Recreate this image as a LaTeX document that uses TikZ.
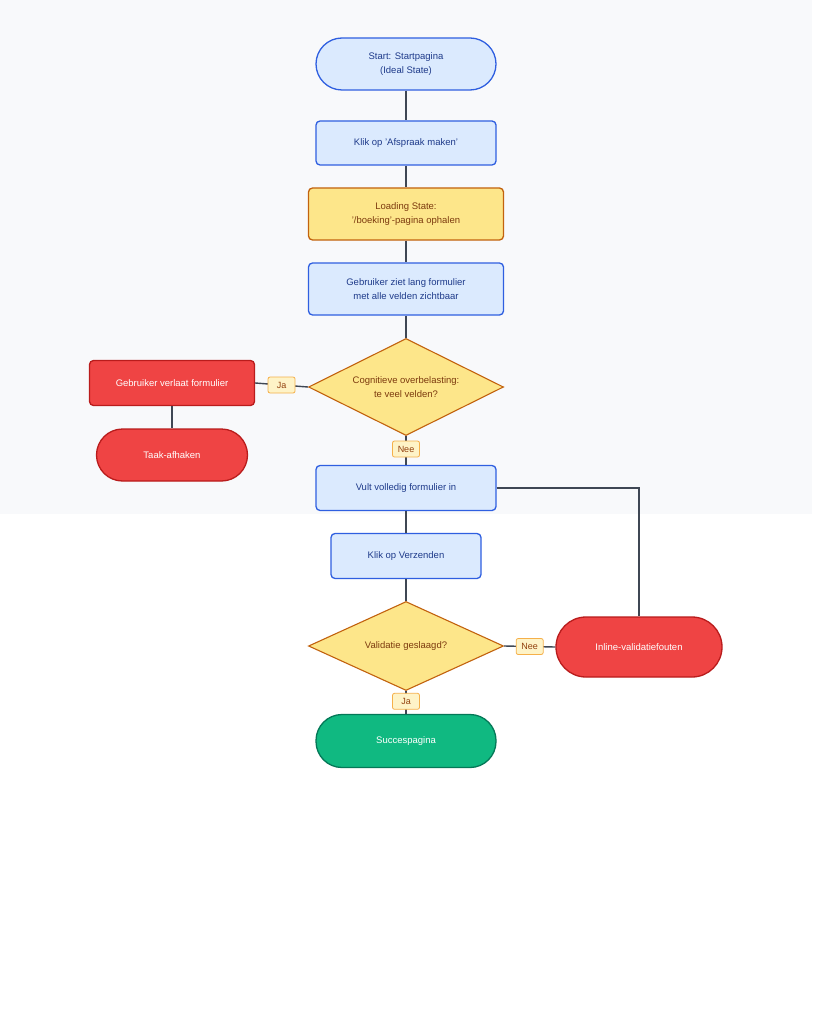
\documentclass[tikz,border=0pt]{standalone}
\usepackage{fontspec}
\setmainfont{Liberation Sans}
\usetikzlibrary{shapes.geometric}
\definecolor{bgGray}{HTML}{F8F9FB}
\definecolor{blueFill}{HTML}{DBEAFE}
\definecolor{blueLine}{HTML}{2F5FE0}
\definecolor{blueText}{HTML}{1E3A8A}
\definecolor{yelFill}{HTML}{FDE68A}
\definecolor{yelLine}{HTML}{C2620E}
\definecolor{yelText}{HTML}{7C3A0E}
\definecolor{redFill}{HTML}{EF4444}
\definecolor{redLine}{HTML}{B91C1C}
\definecolor{grnFill}{HTML}{10B981}
\definecolor{grnLine}{HTML}{047857}
\definecolor{lblFill}{HTML}{FEF3C7}
\definecolor{lblLine}{HTML}{F5B04A}
\definecolor{lblText}{HTML}{92400E}
\definecolor{edgeCol}{HTML}{3F4754}
\tikzset{
  base/.style={font=\fontsize{9.5}{14}\selectfont, align=center, line width=1.3pt, inner sep=0pt},
  bluebox/.style={base, rectangle, rounded corners=4pt, fill=blueFill, draw=blueLine, text=blueText},
  bluestad/.style={base, rectangle, rounded corners=26pt, fill=blueFill, draw=blueLine, text=blueText},
  yelbox/.style={base, rectangle, rounded corners=4pt, fill=yelFill, draw=yelLine, text=yelText},
  decision/.style={base, diamond, aspect=2, fill=yelFill, draw=yelLine, text=yelText, line width=1.1pt},
  redbox/.style={base, rectangle, rounded corners=4pt, fill=redFill, draw=redLine, text=white},
  redstad/.style={base, rectangle, rounded corners=26pt, fill=redFill, draw=redLine, text=white},
  grnstad/.style={base, rectangle, rounded corners=26pt, fill=grnFill, draw=grnLine, text=white},
  lbl/.style={font=\fontsize{9}{10}\selectfont, rectangle, rounded corners=2pt, fill=lblFill, draw=lblLine, text=lblText, line width=0.8pt, minimum width=27pt, minimum height=16pt, inner sep=0pt},
  edge/.style={draw=edgeCol, line width=1.4pt}
}
\begin{document}
\begin{tikzpicture}[x=1pt,y=-1pt]
\useasboundingbox (0,0) rectangle (812,1024);
\fill[white] (0,0) rectangle (812,1024);
\fill[bgGray] (0,0) rectangle (812,514);

\node[bluestad, minimum width=180pt, minimum height=52pt] (start) at (406,64) {Start: Startpagina\\(Ideal State)};
\node[bluebox, minimum width=180pt, minimum height=44pt] (klik) at (406,143) {Klik op 'Afspraak maken'};
\node[yelbox, minimum width=195pt, minimum height=52pt] (load) at (406,214) {Loading State:\\'/boeking'-pagina ophalen};
\node[bluebox, minimum width=195pt, minimum height=52pt] (lang) at (406,289) {Gebruiker ziet lang formulier\\met alle velden zichtbaar};
\node[decision, minimum width=195pt, minimum height=97pt] (cog) at (406,387) {Cognitieve overbelasting:\\te veel velden?};
\node[redbox, minimum width=165pt, minimum height=45pt] (verlaat) at (172,383) {Gebruiker verlaat formulier};
\node[redstad, minimum width=151pt, minimum height=52pt] (taak) at (172,455) {Taak-afhaken};
\node[bluebox, minimum width=180pt, minimum height=45pt] (vult) at (406,488) {Vult volledig formulier in};
\node[bluebox, minimum width=150pt, minimum height=45pt] (verz) at (406,556) {Klik op Verzenden};
\node[decision, minimum width=195pt, minimum height=89pt] (val) at (406,646) {Validatie geslaagd?};
\node[redstad, minimum width=166pt, minimum height=60pt, rounded corners=30pt] (inl) at (639,647) {Inline-validatiefouten};
\node[grnstad, minimum width=180pt, minimum height=53pt] (succ) at (406,741) {Succespagina};

\draw[edge] (start) -- (klik);
\draw[edge] (klik) -- (load);
\draw[edge] (load) -- (lang);
\draw[edge] (lang) -- (cog);
\draw[edge] (cog.west) -- node[lbl] (ja1) {Ja} (verlaat.east);
\draw[edge] (verlaat) -- (taak);
\draw[edge] (cog.south) -- node[lbl, pos=0.45] (nee1) {Nee} (vult.north);
\draw[edge] (vult) -- (verz);
\draw[edge] (verz) -- (val);
\draw[edge] (val.east) -- node[lbl] (nee2) {Nee} (inl.west);
\coordinate (corner) at (inl.north |- vult.east);
\draw[edge] (vult.east) -- (corner) -- (inl.north);
\draw[edge] (val.south) -- node[lbl, pos=0.45] (ja2) {Ja} (succ.north);
\end{tikzpicture}
\end{document}
